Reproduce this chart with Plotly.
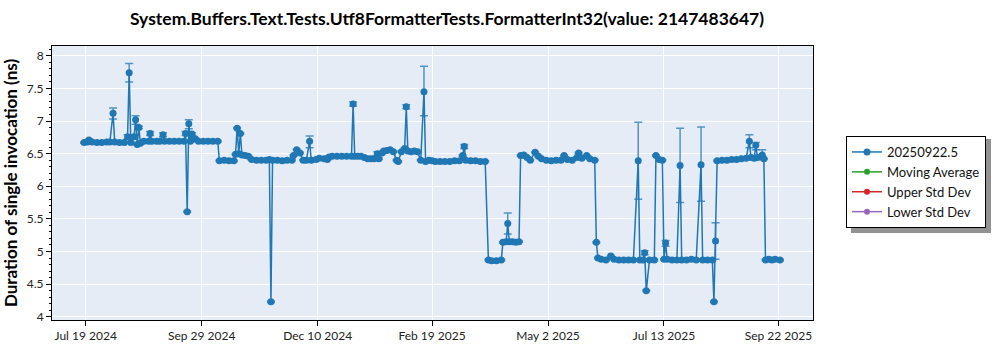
import plotly.graph_objects as go

# Benchmark run dates and mean duration per run (ns)
dates = [
    "2024-07-18", "2024-07-20", "2024-07-21", "2024-07-23", "2024-07-26", "2024-07-29", "2024-08-01", "2024-08-03", "2024-08-05", "2024-08-06",
    "2024-08-09", "2024-08-12", "2024-08-14", "2024-08-15", "2024-08-16", "2024-08-18", "2024-08-19", "2024-08-20", "2024-08-21", "2024-08-22",
    "2024-08-24", "2024-08-27", "2024-08-28", "2024-08-29", "2024-09-01", "2024-09-03", "2024-09-05", "2024-09-06", "2024-09-09", "2024-09-12",
    "2024-09-15", "2024-09-18", "2024-09-19", "2024-09-20", "2024-09-21", "2024-09-22", "2024-09-23", "2024-09-25", "2024-09-27", "2024-09-30",
    "2024-10-03", "2024-10-06", "2024-10-09", "2024-10-10", "2024-10-13", "2024-10-16", "2024-10-19", "2024-10-20", "2024-10-21", "2024-10-22",
    "2024-10-23", "2024-10-24", "2024-10-26", "2024-10-28", "2024-10-30", "2024-11-02", "2024-11-05", "2024-11-08", "2024-11-10", "2024-11-11",
    "2024-11-12", "2024-11-15", "2024-11-18", "2024-11-21", "2024-11-24", "2024-11-25", "2024-11-27", "2024-11-29", "2024-12-01", "2024-12-03",
    "2024-12-05", "2024-12-06", "2024-12-09", "2024-12-11", "2024-12-14", "2024-12-16", "2024-12-17", "2024-12-19", "2024-12-22", "2024-12-25",
    "2024-12-28", "2024-12-31", "2025-01-01", "2025-01-02", "2025-01-04", "2025-01-06", "2025-01-08", "2025-01-10", "2025-01-12", "2025-01-14",
    "2025-01-16", "2025-01-17", "2025-01-19", "2025-01-20", "2025-01-22", "2025-01-24", "2025-01-26", "2025-01-28", "2025-01-29", "2025-01-31",
    "2025-02-02", "2025-02-03", "2025-02-04", "2025-02-06", "2025-02-08", "2025-02-10", "2025-02-12", "2025-02-14", "2025-02-15", "2025-02-17",
    "2025-02-19", "2025-02-21", "2025-02-24", "2025-02-27", "2025-03-02", "2025-03-05", "2025-03-08", "2025-03-10", "2025-03-11", "2025-03-12",
    "2025-03-15", "2025-03-18", "2025-03-21", "2025-03-24", "2025-03-26", "2025-03-28", "2025-03-31", "2025-04-03", "2025-04-04", "2025-04-06",
    "2025-04-07", "2025-04-08", "2025-04-10", "2025-04-12", "2025-04-14", "2025-04-15", "2025-04-17", "2025-04-19", "2025-04-21", "2025-04-24",
    "2025-04-26", "2025-04-28", "2025-05-01", "2025-05-04", "2025-05-07", "2025-05-10", "2025-05-12", "2025-05-14", "2025-05-17", "2025-05-20",
    "2025-05-21", "2025-05-23", "2025-05-26", "2025-05-28", "2025-05-31", "2025-06-01", "2025-06-02", "2025-06-04", "2025-06-07", "2025-06-10",
    "2025-06-12", "2025-06-15", "2025-06-18", "2025-06-21", "2025-06-24", "2025-06-27", "2025-06-28", "2025-06-30", "2025-07-01", "2025-07-02",
    "2025-07-04", "2025-07-07", "2025-07-08", "2025-07-10", "2025-07-12", "2025-07-13", "2025-07-14", "2025-07-15", "2025-07-18", "2025-07-21",
    "2025-07-23", "2025-07-24", "2025-07-27", "2025-07-30", "2025-08-02", "2025-08-05", "2025-08-06", "2025-08-09", "2025-08-12", "2025-08-13",
    "2025-08-14", "2025-08-15", "2025-08-18", "2025-08-21", "2025-08-24", "2025-08-27", "2025-08-30", "2025-09-02", "2025-09-04", "2025-09-05",
    "2025-09-07", "2025-09-08", "2025-09-09", "2025-09-11", "2025-09-12", "2025-09-13", "2025-09-14", "2025-09-16", "2025-09-18", "2025-09-20",
    "2025-09-23",
]

durations = [
    6.67, 6.68, 6.71, 6.68, 6.67, 6.67, 6.68, 6.68, 7.12, 6.68,
    6.67, 6.67, 6.76, 7.74, 6.67, 6.76, 7.02, 6.64, 6.90, 6.66,
    6.69, 6.69, 6.81, 6.69, 6.69, 6.69, 6.79, 6.69, 6.69, 6.69,
    6.69, 6.69, 6.81, 5.61, 6.96, 6.69, 6.80, 6.73, 6.69, 6.69,
    6.69, 6.69, 6.69, 6.39, 6.40, 6.39, 6.39, 6.49, 6.89, 6.50,
    6.81, 6.48, 6.47, 6.46, 6.41, 6.40, 6.40, 6.40, 6.41, 4.23,
    6.40, 6.40, 6.39, 6.40, 6.40, 6.47, 6.56, 6.51, 6.40, 6.40,
    6.69, 6.40, 6.41, 6.43, 6.42, 6.41, 6.45, 6.46, 6.46, 6.46,
    6.46, 6.46, 7.26, 6.46, 6.46, 6.46, 6.44, 6.42, 6.42, 6.42,
    6.50, 6.42, 6.51, 6.54, 6.55, 6.56, 6.53, 6.40, 6.38, 6.53,
    6.58, 7.22, 6.54, 6.53, 6.54, 6.53, 6.40, 7.45, 6.38, 6.40,
    6.39, 6.38, 6.38, 6.38, 6.38, 6.39, 6.39, 6.47, 6.61, 6.40,
    6.39, 6.39, 6.38, 6.38, 4.87, 4.86, 4.86, 4.87, 5.14, 5.15,
    5.43, 5.15, 5.15, 5.14, 5.15, 6.47, 6.48, 6.44, 6.40, 6.52,
    6.46, 6.42, 6.40, 6.39, 6.40, 6.40, 6.47, 6.41, 6.40, 6.44,
    6.51, 6.43, 6.47, 6.42, 6.40, 5.14, 4.90, 4.88, 4.87, 4.93,
    4.88, 4.87, 4.87, 4.87, 4.87, 6.39, 4.87, 4.87, 4.98, 4.40,
    4.87, 4.87, 6.47, 6.41, 6.40, 4.88, 5.13, 4.88, 4.87, 4.87,
    6.32, 4.87, 4.87, 4.88, 4.87, 6.33, 4.87, 4.87, 4.87, 4.23,
    5.16, 6.39, 6.40, 6.40, 6.41, 6.41, 6.42, 6.43, 6.69, 6.44,
    6.43, 6.63, 6.44, 6.45, 6.48, 6.42, 4.87, 4.88, 4.87, 4.88,
    4.87,
]

# Standard deviation above / below each mean
std_up = [
    0.01, 0.01, 0.01, 0.01, 0.01, 0.01, 0.01, 0.01, 0.08, 0.01,
    0.01, 0.01, 0.03, 0.14, 0.01, 0.03, 0.06, 0.01, 0.02, 0.01,
    0.01, 0.01, 0.03, 0.01, 0.01, 0.01, 0.03, 0.01, 0.01, 0.01,
    0.01, 0.01, 0.03, 0.01, 0.06, 0.01, 0.02, 0.01, 0.01, 0.01,
    0.01, 0.01, 0.01, 0.01, 0.01, 0.01, 0.01, 0.01, 0.01, 0.01,
    0.01, 0.01, 0.01, 0.01, 0.01, 0.01, 0.01, 0.01, 0.01, 0.01,
    0.01, 0.01, 0.01, 0.01, 0.01, 0.01, 0.01, 0.01, 0.01, 0.01,
    0.08, 0.01, 0.01, 0.01, 0.01, 0.01, 0.01, 0.01, 0.01, 0.01,
    0.01, 0.01, 0.03, 0.01, 0.01, 0.01, 0.01, 0.01, 0.01, 0.01,
    0.03, 0.01, 0.01, 0.01, 0.01, 0.01, 0.01, 0.01, 0.01, 0.01,
    0.01, 0.03, 0.01, 0.01, 0.01, 0.01, 0.01, 0.39, 0.01, 0.01,
    0.01, 0.01, 0.01, 0.01, 0.01, 0.01, 0.01, 0.01, 0.03, 0.01,
    0.01, 0.01, 0.01, 0.01, 0.01, 0.01, 0.01, 0.01, 0.01, 0.01,
    0.16, 0.01, 0.01, 0.01, 0.01, 0.01, 0.01, 0.01, 0.01, 0.01,
    0.01, 0.01, 0.01, 0.01, 0.01, 0.01, 0.01, 0.01, 0.01, 0.01,
    0.01, 0.01, 0.01, 0.01, 0.01, 0.01, 0.01, 0.01, 0.01, 0.01,
    0.01, 0.01, 0.01, 0.01, 0.01, 0.59, 0.01, 0.01, 0.03, 0.01,
    0.01, 0.01, 0.01, 0.01, 0.01, 0.01, 0.04, 0.01, 0.01, 0.01,
    0.57, 0.01, 0.01, 0.01, 0.01, 0.58, 0.01, 0.01, 0.01, 0.01,
    0.28, 0.01, 0.01, 0.01, 0.01, 0.01, 0.01, 0.01, 0.10, 0.01,
    0.01, 0.04, 0.01, 0.01, 0.08, 0.01, 0.01, 0.01, 0.01, 0.01,
    0.01,
]

std_down = [
    0.01, 0.01, 0.01, 0.01, 0.01, 0.01, 0.01, 0.01, 0.09, 0.01,
    0.01, 0.01, 0.03, 0.14, 0.01, 0.03, 0.07, 0.01, 0.02, 0.01,
    0.01, 0.01, 0.03, 0.01, 0.01, 0.01, 0.03, 0.01, 0.01, 0.01,
    0.01, 0.01, 0.03, 0.01, 0.08, 0.01, 0.02, 0.01, 0.01, 0.01,
    0.01, 0.01, 0.01, 0.01, 0.01, 0.01, 0.01, 0.01, 0.01, 0.01,
    0.01, 0.01, 0.01, 0.01, 0.01, 0.01, 0.01, 0.01, 0.01, 0.01,
    0.01, 0.01, 0.01, 0.01, 0.01, 0.01, 0.01, 0.01, 0.01, 0.01,
    0.10, 0.01, 0.01, 0.01, 0.01, 0.01, 0.01, 0.01, 0.01, 0.01,
    0.01, 0.01, 0.03, 0.01, 0.01, 0.01, 0.01, 0.01, 0.01, 0.01,
    0.03, 0.01, 0.01, 0.01, 0.01, 0.01, 0.01, 0.01, 0.01, 0.01,
    0.01, 0.03, 0.01, 0.01, 0.01, 0.01, 0.01, 0.37, 0.01, 0.01,
    0.01, 0.01, 0.01, 0.01, 0.01, 0.01, 0.01, 0.01, 0.03, 0.01,
    0.01, 0.01, 0.01, 0.01, 0.01, 0.01, 0.01, 0.01, 0.01, 0.01,
    0.16, 0.01, 0.01, 0.01, 0.01, 0.01, 0.01, 0.01, 0.01, 0.01,
    0.01, 0.01, 0.01, 0.01, 0.01, 0.01, 0.01, 0.01, 0.01, 0.01,
    0.01, 0.01, 0.01, 0.01, 0.01, 0.01, 0.01, 0.01, 0.01, 0.01,
    0.01, 0.01, 0.01, 0.01, 0.01, 0.59, 0.01, 0.01, 0.03, 0.01,
    0.01, 0.01, 0.01, 0.01, 0.01, 0.01, 0.05, 0.01, 0.01, 0.01,
    0.57, 0.01, 0.01, 0.01, 0.01, 0.56, 0.01, 0.01, 0.01, 0.01,
    0.28, 0.01, 0.01, 0.01, 0.01, 0.01, 0.01, 0.01, 0.10, 0.01,
    0.01, 0.07, 0.01, 0.01, 0.02, 0.01, 0.01, 0.01, 0.01, 0.01,
    0.01,
]

assert len(dates) == len(durations) == len(std_up) == len(std_down)

series_name = "20250922.5"
overlay_names = ["Moving Average", "Upper Std Dev", "Lower Std Dev"]
overlay_colors = ["#2ca02c", "#d62728", "#9467bd"]

x_tick_dates = ["2024-07-19", "2024-09-29", "2024-12-10", "2025-02-19", "2025-05-02", "2025-07-13", "2025-09-22"]
x_tick_labels = ["Jul 19 2024", "Sep 29 2024", "Dec 10 2024", "Feb 19 2025", "May 2 2025", "Jul 13 2025", "Sep 22 2025"]

title_text = "System.Buffers.Text.Tests.Utf8FormatterTests.FormatterInt32(value: 2147483647)"
y_title = "Duration of single invocation (ns)"

FONT = "Lato"
BLUE = "#1f77b4"

fig = go.Figure()

fig.add_trace(go.Scatter(
    x=dates, y=durations, name=series_name,
    mode="lines+markers",
    line=dict(color=BLUE, width=1.5),
    marker=dict(color=BLUE, size=7),
    error_y=dict(type="data", symmetric=False, array=std_up, arrayminus=std_down,
                 color="rgba(31,119,180,0.75)", thickness=1.5, width=4),
))

for name, color in zip(overlay_names, overlay_colors):
    fig.add_trace(go.Scatter(
        x=[None], y=[None], name=name, mode="lines+markers",
        line=dict(color=color, width=1.5), marker=dict(color=color, size=6),
    ))

# plot area in pixels: left 52, right 813, top 46, bottom 320
L, R, T, B = 52, 813, 46, 320
W, H = 1000, 350


def px_x(px):
    return (px - L) / (R - L)


def px_y(py):
    return (B - py) / (B - T)


# drop shadow behind the legend box
fig.add_shape(type="rect", xref="paper", yref="paper",
              x0=px_x(851), x1=px_x(991), y0=px_y(233), y1=px_y(139),
              fillcolor="rgba(110,110,110,0.75)", line=dict(width=0), layer="above")

fig.update_layout(
    width=W, height=H,
    margin=dict(l=L, r=W - R, t=T, b=H - B, autoexpand=False),
    paper_bgcolor="white",
    plot_bgcolor="#E5ECF6",
    font=dict(family=FONT, size=12, color="#222"),
    title=dict(text="<b>" + title_text + "</b>", x=0.447, xref="container", xanchor="center",
               y=1 - 19 / H, yref="container", yanchor="middle",
               font=dict(family=FONT, size=17.5, color="black"), automargin=False),
    showlegend=True,
    legend=dict(x=px_x(846), y=px_y(136), xanchor="left", yanchor="top",
                bgcolor="white", bordercolor="black", borderwidth=1,
                font=dict(family=FONT, size=13, color="#111"),
                itemwidth=30, tracegroupgap=0),
    xaxis=dict(
        type="date",
        automargin=False,
        range=["2024-06-28 02:00", "2025-10-13 12:00"],
        tickmode="array", tickvals=x_tick_dates, ticktext=x_tick_labels,
        ticks="outside", ticklen=5, tickcolor="black",
        showline=True, linecolor="black", linewidth=1, mirror=True,
        showgrid=True, gridcolor="white", gridwidth=1,
        zeroline=False,
        tickfont=dict(family=FONT, size=12, color="#222"),
    ),
    yaxis=dict(
        automargin=False,
        range=[3.95, 8.15],
        tick0=4, dtick=0.5,
        ticks="outside", ticklen=5, tickcolor="black",
        minor=dict(dtick=0.1, ticks="outside", ticklen=2, tickcolor="black", showgrid=False),
        showline=True, linecolor="black", linewidth=1, mirror=True,
        showgrid=True, gridcolor="white", gridwidth=1,
        zeroline=False,
        tickfont=dict(family=FONT, size=12, color="#222"),
        title=dict(text="<b>" + y_title + "</b>", standoff=6,
                   font=dict(family=FONT, size=17, color="black")),
    ),
)

fig.write_html("out.html")
